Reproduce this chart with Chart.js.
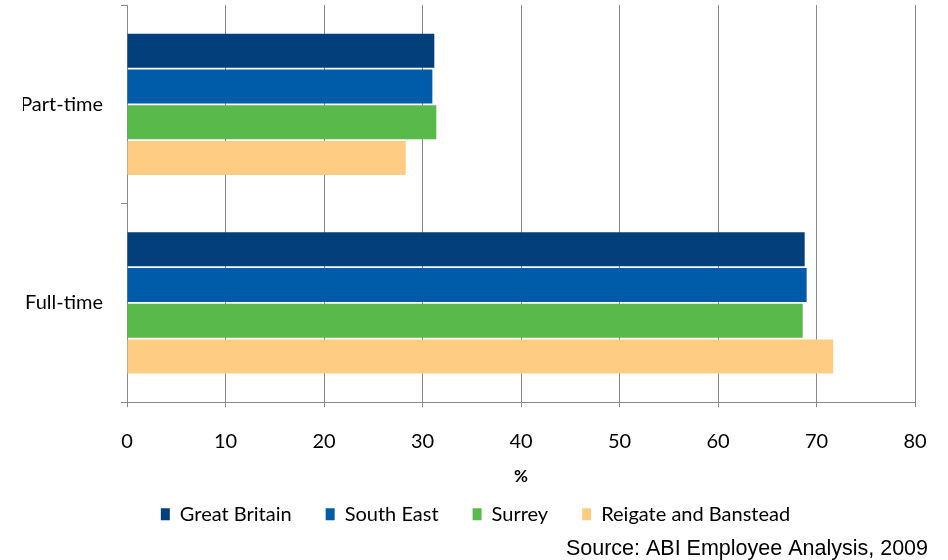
<!DOCTYPE html>
<html>
<head>
<meta charset="utf-8">
<script src="https://cdn.jsdelivr.net/npm/chart.js@4"></script>
<style>
html,body{margin:0;padding:0;background:#fff;}
#wrap{width:948px;height:560px;position:relative;}
</style>
</head>
<body>
<div id="wrap"><canvas id="c" width="948" height="560"></canvas></div>
<script>
const categories = ["Part-time", "Full-time"];
const greatBritain = [31.2, 68.8];
const southEast = [31.0, 69.0];
const surrey = [31.4, 68.6];
const reigateBanstead = [28.3, 71.7];
const xTicks = [0, 10, 20, 30, 40, 50, 60, 70, 80];
const sourceText = "Source: ABI Employee Analysis, 2009";

const labelFont = { family: "Lato", size: 20 };

new Chart(document.getElementById('c'), {
  type: 'bar',
  data: {
    labels: categories,
    datasets: [
      { label: "Great Britain", data: greatBritain, backgroundColor: "#033f7b" },
      { label: "South East", data: southEast, backgroundColor: "#005ca9" },
      { label: "Surrey", data: surrey, backgroundColor: "#5ab94b" },
      { label: "Reigate and Banstead", data: reigateBanstead, backgroundColor: "#fecd83" }
    ].map(d => Object.assign(d, { categoryPercentage: 0.72, barPercentage: 0.95, borderWidth: 0 }))
  },
  options: {
    indexAxis: 'y',
    responsive: false,
    animation: false,
    layout: { padding: { top: 5, left: 23, right: 20, bottom: -2 } },
    scales: {
      x: {
        min: 0, max: 80,
        afterBuildTicks: s => { s.ticks = xTicks.map(v => ({ value: v })); },
        grid: { color: "#8a8a8a", lineWidth: 1, tickLength: 5, drawOnChartArea: true },
        border: { color: "#8a8a8a" },
        ticks: { color: "#000", font: labelFont, padding: 22, maxRotation: 0 },
        title: { display: true, text: "%", color: "#000", font: { family: "Lato", size: 17, weight: "bold" }, padding: { top: 0, bottom: -17 } },
        afterFit: s => { s.height = 68; s.paddingLeft = 0; s.paddingRight = 33; }
      },
      y: {
        grid: { drawOnChartArea: false, color: "#8a8a8a", tickLength: 6, offset: true },
        border: { color: "#8a8a8a" },
        ticks: { color: "#000", font: labelFont, padding: 18 },
        afterFit: s => { s.width = 104; s.paddingTop = 0; s.paddingBottom = 0; }
      }
    },
    plugins: {
      legend: {
        position: 'bottom',
        labels: { color: "#000", font: labelFont, boxWidth: 9, boxHeight: 12, padding: 34 }
      },
      subtitle: {
        display: true, text: sourceText, position: 'bottom', align: 'end',
        color: "#000", font: { family: "Liberation Sans", size: 21.5 }, padding: { top: 2, bottom: 0 }
      },
      tooltip: { enabled: false }
    }
  }
});
</script>
</body>
</html>
